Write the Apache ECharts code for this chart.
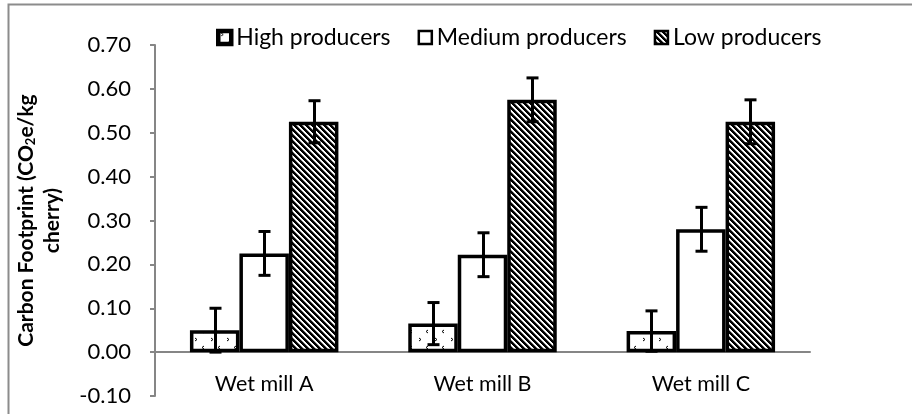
<!DOCTYPE html>
<html>
<head>
<meta charset="utf-8">
<script src="https://cdn.jsdelivr.net/npm/echarts@6/dist/echarts.min.js"></script>
<style>
  html, body { margin: 0; padding: 0; background: #fff; }
  #chart { width: 912px; height: 414px; }
</style>
</head>
<body>
<div id="chart"></div>
<script>
// Wet mill carbon footprint by producer group
const categories = ['Wet mill A', 'Wet mill B', 'Wet mill C'];
const seriesNames = ['High producers', 'Medium producers', 'Low producers'];
const highValues = [0.050, 0.065, 0.048];
const mediumValues = [0.225, 0.222, 0.280];
const lowValues = [0.525, 0.575, 0.525];
const highErrors = [0.05, 0.048, 0.046];
const mediumErrors = [0.05, 0.05, 0.05];
const lowErrors = [0.048, 0.05, 0.05];
const yTicks = { min: -0.1, max: 0.7, step: 0.1 };

const FONT = 'Lato, "Open Sans", sans-serif';

// Diagonal hatch fill for the low producer bars
function hatchPattern() {
  const c = document.createElement('canvas');
  const n = 6;
  c.width = n; c.height = n;
  const ctx = c.getContext('2d');
  const img = ctx.createImageData(n, n);
  for (let y = 0; y < n; y++) {
    for (let x = 0; x < n; x++) {
      const m = ((x - y) % n + n) % n;
      const v = m < 3 ? 0 : (m === 3 ? 140 : 255);
      const i = (y * n + x) * 4;
      img.data[i] = v; img.data[i + 1] = v; img.data[i + 2] = v; img.data[i + 3] = 255;
    }
  }
  ctx.putImageData(img, 0, 0);
  return c;
}

// Sparse chevron dots for the high producer bars
function dotPattern() {
  const c = document.createElement('canvas');
  c.width = 16; c.height = 16;
  const ctx = c.getContext('2d');
  ctx.fillStyle = '#fff';
  ctx.fillRect(0, 0, 16, 16);
  ctx.strokeStyle = '#000';
  ctx.lineWidth = 1;
  ctx.beginPath();
  ctx.moveTo(3, 2); ctx.lineTo(5, 3.5); ctx.lineTo(3, 5);
  ctx.moveTo(12, 10); ctx.lineTo(10, 11.5); ctx.lineTo(12, 13);
  ctx.stroke();
  return c;
}

const fills = [
  { image: dotPattern(), repeat: 'repeat' },
  '#ffffff',
  { image: hatchPattern(), repeat: 'repeat' }
];
const valueSets = [highValues, mediumValues, lowValues];
const errorSets = [highErrors, mediumErrors, lowErrors];

const CAT_GAP = 0.32;

const barSeries = seriesNames.map((name, s) => ({
  name: name,
  type: 'bar',
  data: valueSets[s],
  barGap: '0%',
  barCategoryGap: (CAT_GAP * 100) + '%',
  itemStyle: { color: fills[s], borderColor: '#000', borderWidth: 3.5 },
  emphasis: { disabled: true },
  z: 2
}));

// Error bar data: [category index, value, error, series index]
const errorData = [];
valueSets.forEach((vals, s) => {
  vals.forEach((v, i) => errorData.push([i, v, errorSets[s][i], s]));
});

const errorSeries = {
  type: 'custom',
  name: 'errors',
  data: errorData,
  z: 5,
  silent: true,
  encode: { x: 0, y: 1 },
  renderItem: function (params, api) {
    const cat = api.value(0);
    const val = api.value(1);
    const err = api.value(2);
    const s = api.value(3);
    const band = api.size([1, 0])[0];
    const barW = band * (1 - CAT_GAP) / seriesNames.length;
    const offset = (s - (seriesNames.length - 1) / 2) * barW;
    const top = api.coord([cat, val + err]);
    const bot = api.coord([cat, val - err]);
    const x = Math.round(top[0] + offset) + 0.5;
    const cap = 6;
    const style = { stroke: '#000', lineWidth: 3, fill: null };
    return {
      type: 'group',
      children: [
        { type: 'line', shape: { x1: x, y1: top[1], x2: x, y2: bot[1] }, style: style },
        { type: 'line', shape: { x1: x - cap, y1: top[1], x2: x + cap, y2: top[1] }, style: style },
        { type: 'line', shape: { x1: x - cap, y1: bot[1], x2: x + cap, y2: bot[1] }, style: style }
      ]
    };
  }
};

const legendBorders = [4.5, 2.5, 2.5];

const chart = echarts.init(document.getElementById('chart'), null, { renderer: 'canvas' });
chart.setOption({
  animation: false,
  backgroundColor: '#fff',
  textStyle: { fontFamily: FONT },
  grid: { left: 155, right: 102, top: 45, bottom: 18, containLabel: false, outerBoundsMode: 'none' },
  legend: {
    data: seriesNames.map((n, s) => ({
      name: n,
      itemStyle: { borderColor: '#000', borderWidth: legendBorders[s] }
    })),
    top: 26,
    left: 216,
    padding: 0,
    itemWidth: 13,
    itemHeight: 13,
    itemGap: 27,
    icon: 'rect',
    textStyle: { fontFamily: FONT, fontSize: 23, color: '#000' },
    selectedMode: false
  },
  xAxis: {
    type: 'category',
    data: categories,
    axisLine: { onZero: true, lineStyle: { color: '#868686', width: 2 } },
    axisTick: { show: false },
    axisLabel: { color: '#000', fontSize: 21.5, fontFamily: FONT, margin: -23 },
    splitLine: { show: false }
  },
  yAxis: {
    type: 'value',
    min: yTicks.min,
    max: yTicks.max,
    interval: yTicks.step,
    axisLine: { show: true, onZero: false, lineStyle: { color: '#868686', width: 2 } },
    axisTick: { show: true, inside: false, length: 5, lineStyle: { color: '#868686', width: 2 } },
    axisLabel: {
      color: '#000', fontSize: 22, fontFamily: FONT, margin: 24,
      formatter: v => v.toFixed(2)
    },
    splitLine: { show: false },
    name: 'Carbon Footprint (CO{sub|2}e/kg\ncherry)',
    nameLocation: 'middle',
    nameRotate: 90,
    nameGap: 90,
    nameTextStyle: {
      fontFamily: FONT, fontSize: 21, fontWeight: 'bold', color: '#000',
      lineHeight: 26, align: 'center',
      rich: {
        sub: { fontFamily: FONT, fontSize: 13, fontWeight: 'bold', color: '#000', padding: [10, 0, 0, 0] }
      }
    }
  },
  graphic: [
    {
      type: 'polyline',
      shape: { points: [[8.5, 414], [8.5, 4.5], [912, 4.5]] },
      style: { stroke: '#8c8c8c', lineWidth: 2, fill: null },
      silent: true
    }
  ],
  series: barSeries.concat([errorSeries])
});
</script>
</body>
</html>
